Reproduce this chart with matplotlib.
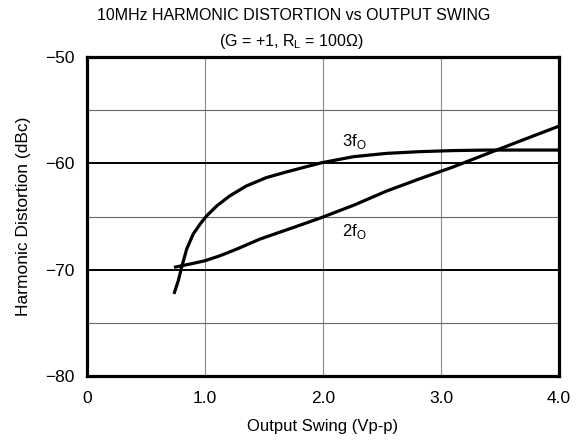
import numpy as np
from matplotlib import pyplot as plt

plt.rcParams['font.family'] = ['Liberation Sans', 'DejaVu Sans']
plt.rcParams['mathtext.fontset'] = 'custom'
plt.rcParams['mathtext.rm'] = 'Liberation Sans'

# =============================================================================
# Data
# =============================================================================
swing_3f = [0.737, 0.774, 0.802, 0.845, 0.90, 0.958, 1.014, 1.10, 1.21,
            1.35, 1.52, 1.69, 1.86, 1.99, 2.26, 2.54, 2.82, 3.10, 3.39,
            3.95, 4.0]
dist_3f = [-72.28, -71.03, -69.78, -68.06, -66.65, -65.72, -64.94, -64.0,
           -63.06, -62.13, -61.34, -60.81, -60.31, -59.94, -59.37, -59.06,
           -58.9, -58.8, -58.75, -58.75, -58.75]

swing_2f = [0.737, 0.873, 1.0, 1.127, 1.27, 1.466, 1.75, 1.975, 2.26,
            2.54, 2.82, 3.10, 3.39, 3.67, 4.0]
dist_2f = [-69.78, -69.47, -69.16, -68.69, -68.06, -67.12, -66.03, -65.15,
           -63.94, -62.6, -61.45, -60.35, -59.1, -57.9, -56.5]

x_ticks = [0, 1, 2, 3, 4]
x_labels = ['0', '1.0', '2.0', '3.0', '4.0']
y_ticks = [-80, -70, -60, -50]
y_minor = [-75, -65, -55]
y_major_grid = [-70, -60]

fig = plt.figure(figsize=(5.81, 4.42), dpi=100)
ax = fig.add_axes([0.1497, 0.1493, 0.8125, 0.7217])

# grid
for x in [1, 2, 3]:
    ax.axvline(x, color='#888888', lw=0.8, zorder=1)
for y in y_minor:
    ax.axhline(y, color='#666666', lw=0.8, zorder=1)
for y in y_major_grid:
    ax.axhline(y, color='black', lw=1.4, zorder=1)

ax.plot(swing_3f, dist_3f, color='black', lw=2.3, zorder=3,
        solid_joinstyle='round', solid_capstyle='butt')
ax.plot(swing_2f, dist_2f, color='black', lw=2.3, zorder=3,
        solid_joinstyle='round', solid_capstyle='butt')

ax.text(2.16, -57.9, r'3f$_\mathrm{O}$', fontsize=12, ha='left',
        va='center')
ax.text(2.16, -66.4, r'2f$_\mathrm{O}$', fontsize=12, ha='left',
        va='center')

ax.set_xlim(0, 4)
ax.set_ylim(-80, -50)
ax.set_xticks(x_ticks)
ax.set_xticklabels(x_labels)
ax.set_yticks(y_ticks)
ax.tick_params(length=0, labelsize=12.5, pad=11)
ax.tick_params(axis='y', pad=9)
for s in ax.spines.values():
    s.set_linewidth(2.3)

ax.set_xlabel('Output Swing (Vp-p)', fontsize=12, labelpad=9)
ax.set_ylabel('Harmonic Distortion (dBc)', fontsize=12.5, labelpad=10)
fig.text(0.505, 0.966, '10MHz HARMONIC DISTORTION vs OUTPUT SWING',
         ha='center', va='center', fontsize=11.5)
fig.text(0.502, 0.905, r'(G = +1, R$_\mathrm{L}$ = 100$\Omega$)',
         ha='center', va='center', fontsize=11.5)

fig.savefig('out.png', dpi=100)
